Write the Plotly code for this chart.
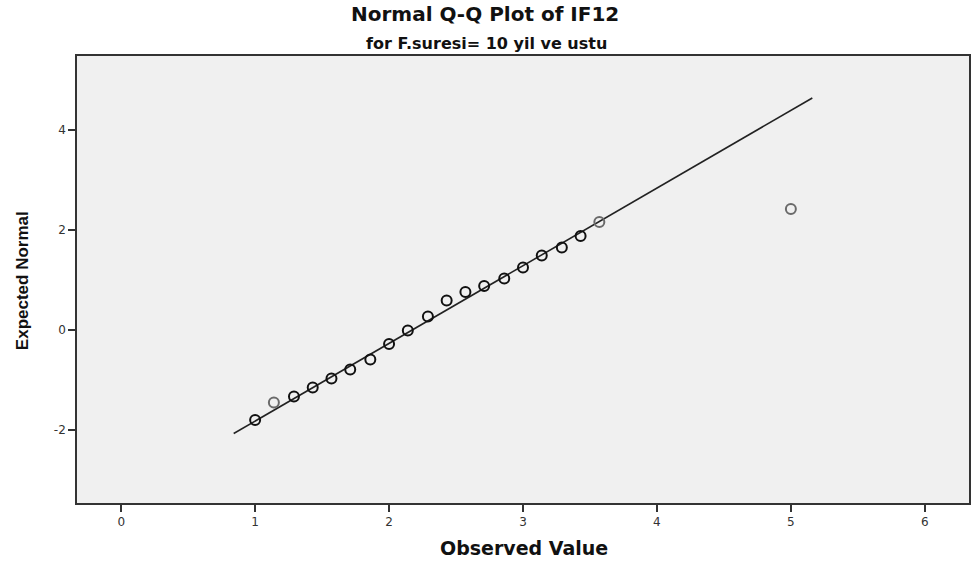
import plotly.graph_objects as go

observed = [1.0, 1.14, 1.29, 1.43, 1.57, 1.71, 1.86, 2.0, 2.14, 2.29,
            2.43, 2.57, 2.71, 2.86, 3.0, 3.14, 3.29, 3.43, 3.57, 5.0]
expected = [-1.80, -1.45, -1.33, -1.15, -0.97, -0.79, -0.59, -0.28, -0.01, 0.27,
            0.59, 0.76, 0.88, 1.03, 1.25, 1.49, 1.65, 1.88, 2.16, 2.42]
# darker markers where several cases overlap
overlap = [True, False, True, True, True, True, True, True, True, True,
           True, True, True, True, True, True, True, True, False, False]

# reference line endpoints
line_x = [0.84, 5.16]
line_y = [-2.07, 4.64]

x_ticks = [0, 1, 2, 3, 4, 5, 6]
x_tick_labels = ["0", "1", "2", "3", "4", "5", "6"]
y_ticks = [-2, 0, 2, 4]
y_tick_labels = ["-2", "0", "2", "4"]

title = "Normal Q-Q Plot of IF12"
subtitle = "for F.suresi= 10 yil ve ustu"
x_title = "Observed Value"
y_title = "Expected Normal"

marker_colors = ["#111111" if o else "#6a6a6a" for o in overlap]

fig = go.Figure()
fig.add_trace(go.Scatter(
    x=line_x, y=line_y, mode="lines",
    line=dict(color="#222222", width=1.6),
    hoverinfo="skip", showlegend=False,
))
fig.add_trace(go.Scatter(
    x=observed, y=expected, mode="markers",
    marker=dict(symbol="circle-open", size=10,
                color=marker_colors,
                line=dict(color=marker_colors, width=2)),
    showlegend=False,
))

axis_common = dict(
    showgrid=False, zeroline=False,
    showline=True, linecolor="#333333", linewidth=1.6, mirror=True,
    ticks="outside", ticklen=7, tickwidth=1.6, tickcolor="#333333",
    tickfont=dict(family="DejaVu Sans", size=12, color="#333333"),
)

fig.update_layout(
    width=972, height=563,
    margin=dict(l=77, r=1, t=56, b=60),
    paper_bgcolor="white",
    plot_bgcolor="#f0f0f0",
    xaxis=dict(range=[-0.33, 6.33], tickvals=x_ticks, ticktext=x_tick_labels,
               **axis_common),
    yaxis=dict(range=[-3.46, 5.48], tickvals=y_ticks, ticktext=y_tick_labels,
               **axis_common),
    annotations=[
        dict(text=f"<b>{title}</b>", xref="paper", yref="paper",
             x=0.4575, y=1.094, xanchor="center", yanchor="middle",
             showarrow=False,
             font=dict(family="DejaVu Sans", size=20, color="#111111")),
        dict(text=f"<b>{subtitle}</b>", xref="paper", yref="paper",
             x=0.459, y=1.029, xanchor="center", yanchor="middle",
             showarrow=False,
             font=dict(family="DejaVu Sans", size=16, color="#111111")),
        dict(text=f"<b>{x_title}</b>", xref="paper", yref="paper",
             x=0.501, y=-0.1007, xanchor="center", yanchor="middle",
             showarrow=False,
             font=dict(family="DejaVu Sans", size=19, color="#111111")),
        dict(text=f"<b>{y_title}</b>", xref="paper", yref="paper",
             x=-0.0615, y=0.4966, xanchor="center", yanchor="middle",
             textangle=-90, showarrow=False,
             font=dict(family="Liberation Sans", size=17, color="#111111")),
    ],
)

fig.write_html("out.html",
               config={"displayModeBar": False},
               post_script="document.body.style.margin='0';document.body.style.overflow='hidden';")
